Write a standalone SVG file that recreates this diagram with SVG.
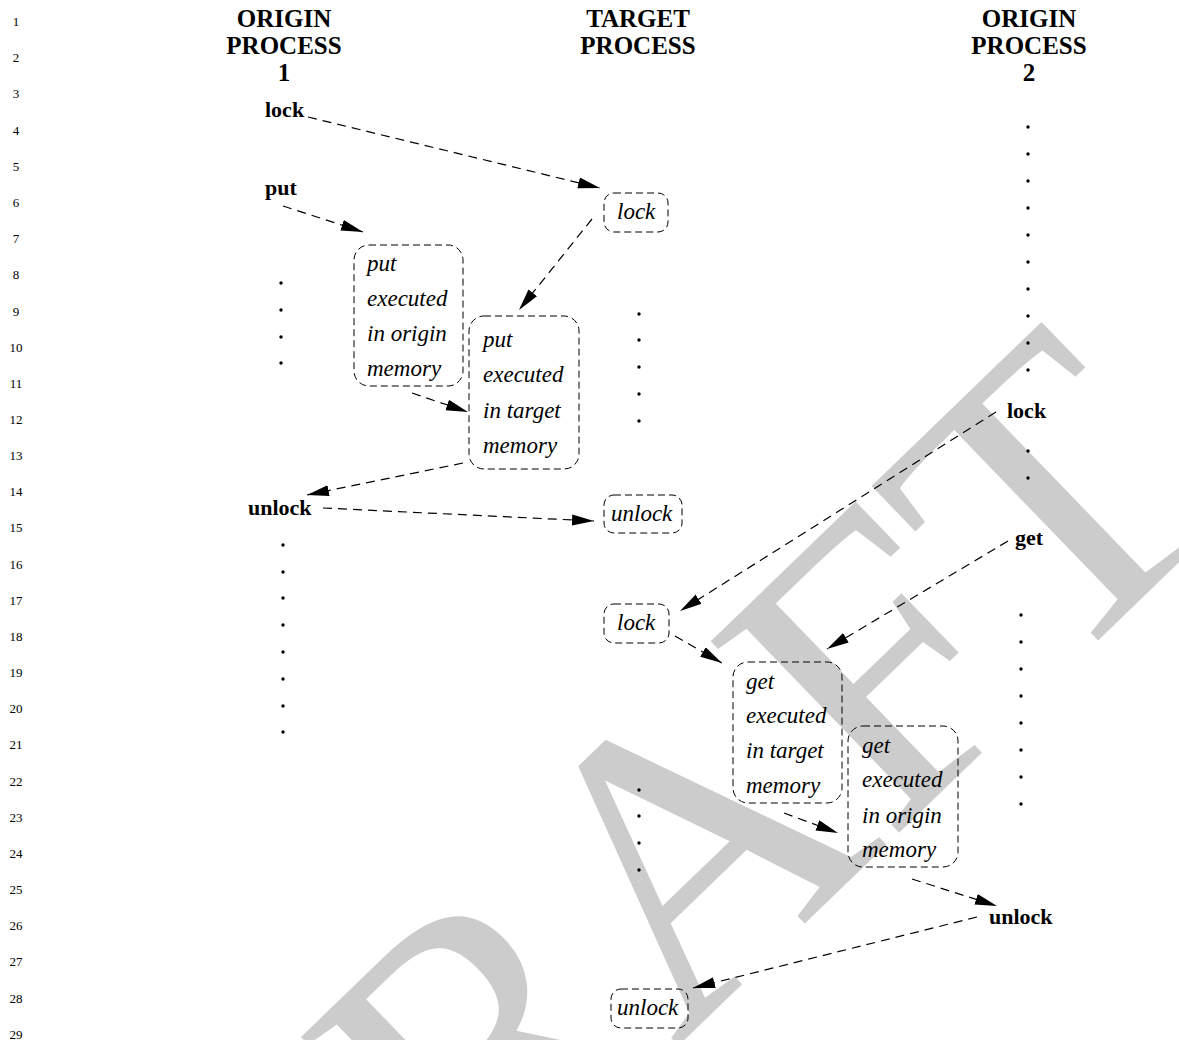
<svg xmlns="http://www.w3.org/2000/svg" width="1179" height="1040" viewBox="0 0 1179 1040">
<style>
.ln{font-family:"Liberation Serif",serif;font-size:13px;text-anchor:middle;fill:#000}
.hd{font-family:"Liberation Serif",serif;font-size:25px;font-weight:bold;text-anchor:middle;fill:#000}
.op{font-family:"Liberation Serif",serif;font-size:22px;font-weight:bold;fill:#000}
.it{font-family:"Liberation Serif",serif;font-size:23px;font-style:italic;fill:#000}
.box{fill:none;stroke:#000;stroke-width:1;stroke-dasharray:7 4}
.ar{fill:none;stroke:#000;stroke-width:1.2;stroke-dasharray:9 6;marker-end:url(#ah)}
.dot{fill:#000}
.wm{font-family:"Liberation Serif",serif;font-size:410px;fill:#cccccc}
</style>
<defs>
<marker id="ah" markerUnits="userSpaceOnUse" markerWidth="24" markerHeight="12" refX="22" refY="5.5" orient="auto">
<path d="M0,0 L22,5.5 L0,11 z" fill="#000"/>
</marker>
<circle id="d" r="1.7"/>
</defs>
<g id="watermark"><text class="wm" transform="translate(266,1444) rotate(-44)">DRAFT</text></g>
<g id="linenumbers">
<text class="ln" x="16" y="26">1</text><text class="ln" x="16" y="62">2</text><text class="ln" x="16" y="98">3</text><text class="ln" x="16" y="135">4</text><text class="ln" x="16" y="171">5</text><text class="ln" x="16" y="207">6</text><text class="ln" x="16" y="243">7</text><text class="ln" x="16" y="279">8</text><text class="ln" x="16" y="316">9</text><text class="ln" x="16" y="352">10</text><text class="ln" x="16" y="388">11</text><text class="ln" x="16" y="424">12</text><text class="ln" x="16" y="460">13</text><text class="ln" x="16" y="496">14</text><text class="ln" x="16" y="532">15</text><text class="ln" x="16" y="569">16</text><text class="ln" x="16" y="605">17</text><text class="ln" x="16" y="641">18</text><text class="ln" x="16" y="677">19</text><text class="ln" x="16" y="713">20</text><text class="ln" x="16" y="749">21</text><text class="ln" x="16" y="786">22</text><text class="ln" x="16" y="822">23</text><text class="ln" x="16" y="858">24</text><text class="ln" x="16" y="894">25</text><text class="ln" x="16" y="930">26</text><text class="ln" x="16" y="966">27</text><text class="ln" x="16" y="1003">28</text><text class="ln" x="16" y="1039">29</text>
</g>
<g id="headers">
<text class="hd" x="284" y="27">ORIGIN</text><text class="hd" x="284" y="54">PROCESS</text><text class="hd" x="284" y="81">1</text>
<text class="hd" x="638" y="27">TARGET</text><text class="hd" x="638" y="54">PROCESS</text>
<text class="hd" x="1029" y="27">ORIGIN</text><text class="hd" x="1029" y="54">PROCESS</text><text class="hd" x="1029" y="81">2</text>
</g>
<g id="dots" class="dot">
<use href="#d" x="281" y="283"/><use href="#d" x="281" y="310"/><use href="#d" x="281" y="337"/><use href="#d" x="281" y="363"/>
<use href="#d" x="283" y="545"/><use href="#d" x="283" y="572"/><use href="#d" x="283" y="598"/><use href="#d" x="283" y="625"/><use href="#d" x="283" y="652"/><use href="#d" x="283" y="679"/><use href="#d" x="283" y="706"/><use href="#d" x="283" y="732"/>
<use href="#d" x="639" y="314"/><use href="#d" x="639" y="340"/><use href="#d" x="639" y="367"/><use href="#d" x="639" y="394"/><use href="#d" x="639" y="421"/>
<use href="#d" x="639" y="790"/><use href="#d" x="639" y="816"/><use href="#d" x="639" y="843"/><use href="#d" x="639" y="870"/>
<use href="#d" x="1028" y="127"/><use href="#d" x="1028" y="154"/><use href="#d" x="1028" y="181"/><use href="#d" x="1028" y="208"/><use href="#d" x="1028" y="235"/><use href="#d" x="1028" y="262"/><use href="#d" x="1028" y="289"/><use href="#d" x="1028" y="316"/><use href="#d" x="1028" y="343"/><use href="#d" x="1028" y="370"/>
<use href="#d" x="1028" y="451"/><use href="#d" x="1028" y="478"/>
<use href="#d" x="1021" y="615"/><use href="#d" x="1021" y="642"/><use href="#d" x="1021" y="669"/><use href="#d" x="1021" y="696"/><use href="#d" x="1021" y="723"/><use href="#d" x="1021" y="750"/><use href="#d" x="1021" y="777"/><use href="#d" x="1021" y="804"/>
</g>
<g id="n-lock1"><text class="op" x="265" y="117">lock</text></g>
<g id="n-put"><text class="op" x="265" y="195">put</text></g>
<g id="n-unlock1"><text class="op" x="248" y="515">unlock</text></g>
<g id="n-lock2"><text class="op" x="1007" y="418">lock</text></g>
<g id="n-get"><text class="op" x="1015" y="545">get</text></g>
<g id="n-unlock2"><text class="op" x="989" y="924">unlock</text></g>
<g id="n-lockbox1"><rect class="box" x="604" y="193" width="64" height="39" rx="10"/><text class="it" x="617" y="219">lock</text></g>
<g id="n-putorigin"><rect class="box" x="354" y="245" width="109" height="141" rx="15"/><text class="it" x="367" y="271">put</text><text class="it" x="367" y="306">executed</text><text class="it" x="367" y="341">in origin</text><text class="it" x="367" y="376">memory</text></g>
<g id="n-puttarget"><rect class="box" x="469" y="316" width="110" height="153" rx="15"/><text class="it" x="483" y="347">put</text><text class="it" x="483" y="382">executed</text><text class="it" x="483" y="418">in target</text><text class="it" x="483" y="453">memory</text></g>
<g id="n-unlockbox1"><rect class="box" x="604" y="495" width="78" height="38" rx="10"/><text class="it" x="611" y="521">unlock</text></g>
<g id="n-lockbox2"><rect class="box" x="604" y="604" width="65" height="39" rx="10"/><text class="it" x="617" y="630">lock</text></g>
<g id="n-gettarget"><rect class="box" x="733" y="662" width="109" height="141" rx="15"/><text class="it" x="746" y="689">get</text><text class="it" x="746" y="723">executed</text><text class="it" x="746" y="758">in target</text><text class="it" x="746" y="793">memory</text></g>
<g id="n-getorigin"><rect class="box" x="848" y="726" width="110" height="141" rx="15"/><text class="it" x="862" y="753">get</text><text class="it" x="862" y="787">executed</text><text class="it" x="862" y="823">in origin</text><text class="it" x="862" y="857">memory</text></g>
<g id="n-unlockbox2"><rect class="box" x="611" y="989" width="77" height="39" rx="10"/><text class="it" x="617" y="1015">unlock</text></g>
<g id="connectors">
<line class="ar" x1="308" y1="117" x2="600" y2="188"/>
<line class="ar" x1="283" y1="206" x2="363" y2="232"/>
<line class="ar" x1="592" y1="219" x2="519" y2="310"/>
<line class="ar" x1="412" y1="393" x2="468" y2="412"/>
<line class="ar" x1="463" y1="463" x2="307" y2="495"/>
<line class="ar" x1="323" y1="508" x2="594" y2="521"/>
<line class="ar" x1="996" y1="412" x2="680" y2="611"/>
<line class="ar" x1="1008" y1="541" x2="827" y2="649"/>
<line class="ar" x1="675" y1="636" x2="722" y2="663"/>
<line class="ar" x1="784" y1="813" x2="838" y2="833"/>
<line class="ar" x1="912" y1="879" x2="997" y2="906"/>
<line class="ar" x1="977" y1="917" x2="693" y2="988"/>
</g>
</svg>
